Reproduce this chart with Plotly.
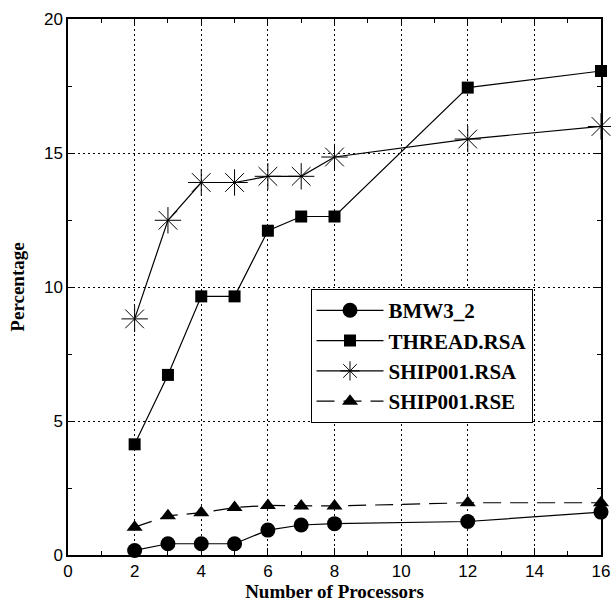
import plotly.graph_objects as go

processors = [2, 3, 4, 5, 6, 7, 8, 12, 16]
bmw3_2 = [0.17, 0.42, 0.42, 0.42, 0.93, 1.12, 1.17, 1.25, 1.6]
thread_rsa = [4.13, 6.72, 9.65, 9.65, 12.1, 12.63, 12.63, 17.44, 18.06]
ship001_rsa = [8.81, 12.49, 13.9, 13.9, 14.13, 14.13, 14.85, 15.52, 15.99]
ship001_rse = [1.04, 1.46, 1.58, 1.77, 1.85, 1.83, 1.83, 1.95, 1.95]

series = [
    ("BMW3_2", bmw3_2, dict(symbol="circle", size=15, color="black"), "solid"),
    ("THREAD.RSA", thread_rsa, dict(symbol="square", size=12, color="black"), "solid"),
    ("SHIP001.RSA", ship001_rsa, dict(symbol="asterisk-open", size=22, color="black",
                                      line=dict(color="black", width=1)), "solid"),
    ("SHIP001.RSE", ship001_rse, dict(symbol="triangle-up", size=14, color="black"), "18px,9px"),
]

fig = go.Figure()
for name, vals, marker, dash in series:
    fig.add_trace(go.Scatter(
        x=processors, y=vals, name="<b>" + name + "</b>", mode="lines+markers",
        line=dict(color="black", width=1.2, dash=dash),
        marker=marker, cliponaxis=False,
    ))

axis_common = dict(
    showline=True, linecolor="black", linewidth=1.5, mirror="ticks",
    ticks="inside", ticklen=7, tickcolor="black", tickwidth=1,
    showgrid=True, gridcolor="black", gridwidth=1, griddash="2px,3px",
    zeroline=False, automargin=False,
    tickfont=dict(family="Liberation Sans, Arial, sans-serif", size=17, color="black"),
)

fig.update_xaxes(
    range=[0, 16], tick0=0, dtick=2,
    minor=dict(dtick=1, ticks="inside", ticklen=4, tickcolor="black", showgrid=False),
    title=dict(text="<b>Number of Processors</b>", standoff=4,
               font=dict(family="Liberation Serif, Times New Roman, serif", size=19, color="black")),
    **axis_common,
)
fig.update_yaxes(
    range=[0, 20], tick0=0, dtick=5,
    minor=dict(dtick=2.5, ticks="inside", ticklen=4, tickcolor="black", showgrid=False),
    title=dict(text="<b>Percentage</b>", standoff=14,
               font=dict(family="Liberation Serif, Times New Roman, serif", size=19, color="black")),
    **axis_common,
)

fig.update_layout(
    width=611, height=603,
    margin=dict(l=68, r=10, t=19, b=48),
    plot_bgcolor="white", paper_bgcolor="white",
    showlegend=True,
    legend=dict(
        x=0.455, y=0.496, xanchor="left", yanchor="top",
        bgcolor="white", bordercolor="black", borderwidth=1,
        font=dict(family="Liberation Serif, Times New Roman, serif", size=21, color="black"),
        itemwidth=67, tracegroupgap=0,
    ),
)

fig.write_html("out.html")
